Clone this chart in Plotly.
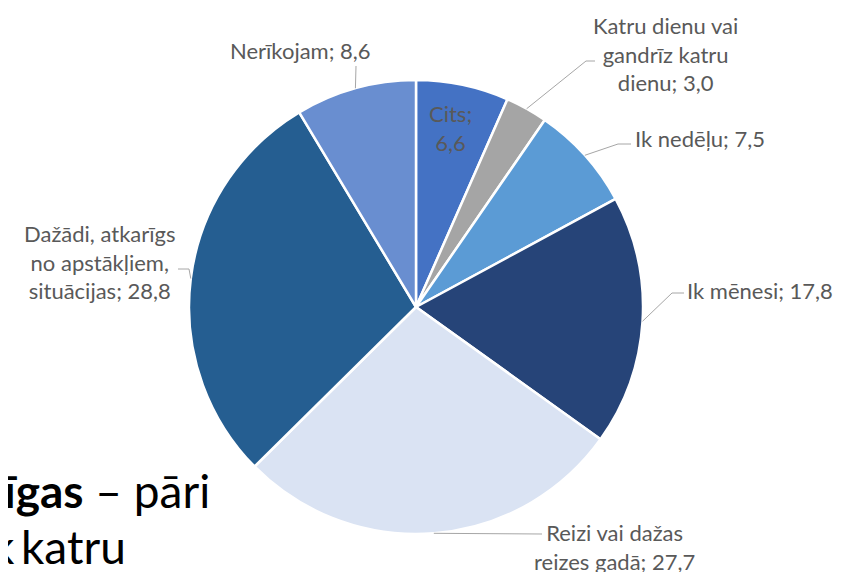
import math
import plotly.graph_objects as go

# ---- data ----
labels = ["Cits", "Katru dienu vai gandrīz katru dienu", "Ik nedēļu", "Ik mēnesi",
          "Reizi vai dažas reizes gadā", "Dažādi, atkarīgs no apstākļiem, situācijas", "Nerīkojam"]
label_text = ["Cits;<br>6,6", "Katru dienu vai<br>gandrīz katru<br>dienu; 3,0", "Ik nedēļu; 7,5",
              "Ik mēnesi; 17,8", "Reizi vai dažas<br>reizes gadā; 27,7",
              "Dažādi, atkarīgs<br>no apstākļiem,<br>situācijas; 28,8", "Nerīkojam; 8,6"]
values = [6.6, 3.0, 7.5, 17.8, 27.7, 28.8, 8.6]
colors = ["#4472C4", "#A5A5A5", "#5B9BD5", "#264478", "#DAE3F3", "#255E91", "#698ED0"]

W, H = 843, 572
OFF = 8  # page body margin offset
CX, CY, R = 416, 307, 227

def px(x):
    return (x - OFF) / W

def py(y):
    return 1 - (y - OFF) / H

fig = go.Figure(go.Pie(
    labels=labels, values=values, sort=False, direction="clockwise", rotation=0,
    marker=dict(colors=colors, line=dict(color="white", width=2.5)),
    textinfo="none", hoverinfo="label+value", showlegend=False,
    domain=dict(x=[px(CX - R), px(CX + R)], y=[py(CY + R), py(CY - R)]),
))

label_layout = [
    dict(x=450, y=128, xanchor="center", align="center", path=None),
    dict(x=665, y=54, xanchor="center", align="center", path=[(586, 61), (595, 61)]),
    dict(x=633, y=138, xanchor="left", align="left", path=[(618, 144), (631, 144)]),
    dict(x=685, y=290, xanchor="left", align="left", path=[(672, 293), (684, 293)]),
    dict(x=614, y=547, xanchor="center", align="center", path=[(542, 534)]),
    dict(x=100, y=262, xanchor="center", align="center", path=[(189, 269), (178, 269)]),
    dict(x=300, y=50, xanchor="center", align="center", path=[(356, 66)]),
]

total = sum(values)
cum = 0.0
FONT = dict(family="Lato, Carlito, Calibri, sans-serif", size=22, color="#595959")
for v, txt, lay in zip(values, label_text, label_layout):
    mid = (cum + v / 2) / total * 2 * math.pi
    cum += v
    ex = CX + R * math.sin(mid)
    ey = CY - R * math.cos(mid)
    fig.add_annotation(x=px(lay["x"]), y=py(lay["y"]), xref="paper", yref="paper",
                       text=txt, showarrow=False, xanchor=lay["xanchor"], yanchor="middle",
                       align=lay["align"], font=FONT)
    if lay["path"]:
        pts = [(ex, ey)] + lay["path"]
        d = "M " + " L ".join(f"{px(a)} {py(b)}" for a, b in pts)
        fig.add_shape(type="path", path=d, xref="paper", yref="paper",
                      line=dict(color="#A6A6A6", width=1))

# background slide text (cut off at the left)
BIG = dict(family="Lato, sans-serif", size=46, color="black")
fig.add_annotation(x=px(212), y=py(490), xref="paper", yref="paper", showarrow=False,
                   xanchor="right", yanchor="middle", text="<b>īgas</b> – pāri", font=BIG)
fig.add_annotation(x=px(17), y=py(546), xref="paper", yref="paper", showarrow=False,
                   xanchor="right", yanchor="middle", text="k", font=BIG)
fig.add_annotation(x=px(128), y=py(546), xref="paper", yref="paper", showarrow=False,
                   xanchor="right", yanchor="middle", text="katru", font=BIG)

fig.update_layout(width=W, height=H, margin=dict(l=0, r=0, t=0, b=0),
                  paper_bgcolor="white", plot_bgcolor="white")
fig.write_html("out.html")
